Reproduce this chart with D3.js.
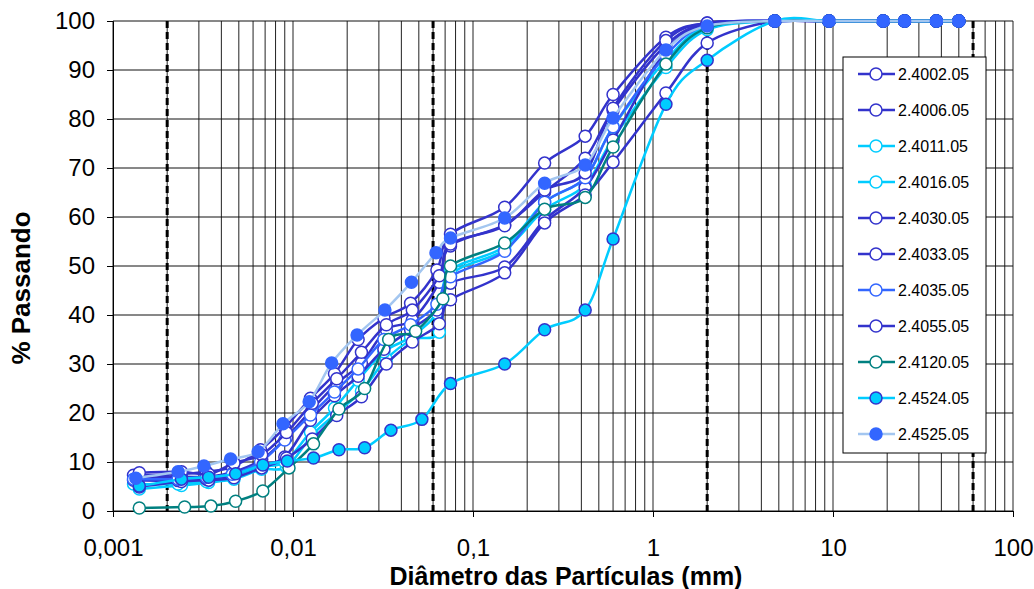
<!DOCTYPE html>
<html>
<head>
<meta charset="utf-8">
<script src="https://cdn.jsdelivr.net/npm/d3@7"></script>
<style>
  body { margin: 0; background: #fff; }
  text { font-family: Arial, "Liberation Sans", sans-serif; }
</style>
</head>
<body>
<div id="graph"></div>
<script>
// sieve diameters (mm), shared by every sample
const sieveD = [0.075, 0.15, 0.25, 0.42, 0.6, 1.18, 2, 4.75, 9.5, 19, 25, 37.5, 50];
// sedimentation diameters (mm)
const hydroD1 = [0.0013, 0.0023, 0.0033, 0.0046, 0.0066, 0.009, 0.0125, 0.017, 0.023, 0.032, 0.045, 0.063];
const hydroD2 = [0.0014, 0.0024, 0.0034, 0.0047, 0.0067, 0.0092, 0.0128, 0.0175, 0.024, 0.033, 0.046, 0.065];
const hydroTeal = [0.0014, 0.0025, 0.0035, 0.0048, 0.0068, 0.0095, 0.013, 0.018, 0.025, 0.034, 0.048, 0.068];
const hydroCyan = [0.0014, 0.0024, 0.0034, 0.0048, 0.0068, 0.0093, 0.013, 0.018, 0.025, 0.035, 0.052];
const hydroBlue = [0.00134, 0.0023, 0.0032, 0.0045, 0.0064, 0.0088, 0.0123, 0.0164, 0.0227, 0.0324, 0.0455, 0.0623];

// % passing: sedimentation part + sieve part
const p4002 = [7.3, 7.5, 8.0, 9.0, 12.5, 17, 23, 28, 35, 39.4, 42.4, 49.2,
  56.5, 62, 71, 76.5, 85, 96.7, 99.6, 100, 100, 100, 100, 100, 100];
const p4006 = [6.9, 7.0, 7.0, 8.0, 10.5, 15, 20.8, 26, 30.2, 37, 39, 46.7,
  54.1, 58.4, 65.1, 72, 81.8, 95.1, 99.5, 100, 100, 100, 100, 100, 100];
const p4011 = [4.5, 5.2, 5.8, 6.5, 8.5, 9, 15.5, 20, 24.5, 31, 35, 36.5,
  48, 53.3, 61.5, 66.5, 76, 90.5, 98.2, 100, 100, 100, 100, 100, 100];
const p4016 = [5.5, 5.5, 6.0, 7.0, 9.0, 10, 16.1, 21, 26.7, 32.5, 35.5, 40.4,
  49, 54, 63, 68, 78.4, 92, 99, 100, 100, 100, 100, 100, 100];
const p4030 = [6.3, 6.2, 6.5, 7.3, 9.4, 11, 18.5, 23.5, 27.5, 33, 37, 41,
  46.5, 49.8, 59.4, 66, 75.7, 94, 99.3, 100, 100, 100, 100, 100, 100];
const p4033 = [4.9, 6.0, 6.3, 6.8, 8.8, 10.8, 14.7, 19.5, 23.3, 30, 34.5, 38.2,
  43.1, 48.6, 58.8, 64.5, 71.2, 85.3, 95.5, 100, 100, 100, 100, 100, 100];
const p4035 = [6.5, 6.5, 6.9, 7.5, 10, 14.5, 19.6, 24.3, 29, 35, 38, 42.2,
  47.8, 53, 63, 68, 78.4, 93, 99.2, 100, 100, 100, 100, 100, 100];
const p4055 = [7.8, 8.0, 7.5, 9.8, 11.5, 16, 22, 27, 32.4, 38, 41, 48,
  54.5, 58.2, 65.5, 69, 82.2, 96, 99.6, 100, 100, 100, 100, 100, 100];
const p4120 = [0.6, 0.8, 1.0, 2.0, 4.1, 8.8, 13.7, 20.8, 25, 35, 36.7, 43.3,
  50, 54.7, 61.6, 64, 74.3, 91.2, 98.6, 100, 100, 100, 100, 100, 100];
const p4524 = [5.1, 6.5, 6.9, 7.6, 9.4, 10.2, 10.8, 12.5, 12.9, 16.5, 18.7,
  26, 30, 37, 41, 55.5, 83, 92, 100, 100, 100, 100, 100, 100];
const p4525 = [6.7, 8.0, 9.2, 10.6, 12.1, 17.8, 22.3, 30.2, 35.9, 41, 46.7, 52.7,
  55.7, 59.8, 66.9, 70.6, 80.2, 94.1, 99, 100, 100, 100, 100, 100, 100];

const seriesNames = ["2.4002.05", "2.4006.05", "2.4011.05", "2.4016.05", "2.4030.05", "2.4033.05",
  "2.4035.05", "2.4055.05", "2.4120.05", "2.4524.05", "2.4525.05"];

const xTicks = [0.001, 0.01, 0.1, 1, 10, 100];
const yTicks = [0, 10, 20, 30, 40, 50, 60, 70, 80, 90, 100];
const limitLines = [0.002, 0.06, 2, 60];

const DARK = "#3333cc", CYAN = "#00ccff", TEAL = "#008080", BLUE = "#3366ff", LIGHT = "#a3c6f0";

const series = [
  { name: seriesNames[0], d: hydroD1.concat(sieveD), p: p4002, line: DARK, fill: "#fff", edge: DARK },
  { name: seriesNames[1], d: hydroD2.concat(sieveD), p: p4006, line: DARK, fill: "#fff", edge: DARK },
  { name: seriesNames[2], d: hydroD2.concat(sieveD), p: p4011, line: CYAN, fill: "#fff", edge: CYAN },
  { name: seriesNames[3], d: hydroD1.concat(sieveD), p: p4016, line: CYAN, fill: "#fff", edge: CYAN },
  { name: seriesNames[4], d: hydroD1.concat(sieveD), p: p4030, line: DARK, fill: "#fff", edge: DARK },
  { name: seriesNames[5], d: hydroD2.concat(sieveD), p: p4033, line: DARK, fill: "#fff", edge: DARK },
  { name: seriesNames[6], d: hydroD1.concat(sieveD), p: p4035, line: BLUE, fill: "#fff", edge: BLUE },
  { name: seriesNames[7], d: hydroD2.concat(sieveD), p: p4055, line: DARK, fill: "#fff", edge: DARK },
  { name: seriesNames[8], d: hydroTeal.concat(sieveD), p: p4120, line: TEAL, fill: "#fff", edge: TEAL },
  { name: seriesNames[9], d: hydroCyan.concat(sieveD), p: p4524, line: CYAN, fill: CYAN, edge: DARK },
  { name: seriesNames[10], d: hydroBlue.concat(sieveD), p: p4525, line: LIGHT, fill: BLUE, edge: BLUE },
];

function GranChart() {
  const width = 1034, height = 589;
  const config = { marginLeft: 113, marginRight: 21, marginTop: 21, marginBottom: 78 };
  const innerW = width - config.marginLeft - config.marginRight;
  const innerH = height - config.marginTop - config.marginBottom;

  const svg = d3.select("#graph").append("svg")
    .attr("width", width).attr("height", height)
    .append("g")
    .attr("transform", `translate(${config.marginLeft},${config.marginTop})`);

  const x = d3.scaleLog().domain([0.001, 100]).range([0, innerW]);
  const y = d3.scaleLinear().domain([0, 100]).range([innerH, 0]);

  // vertical grid on every log step
  const minor = [];
  for (let e = -3; e < 2; e++) for (let k = 1; k <= 9; k++) minor.push(k * Math.pow(10, e));
  minor.push(100);
  svg.append("g").selectAll("line").data(minor).enter().append("line")
    .attr("x1", d => x(d)).attr("x2", d => x(d))
    .attr("y1", 0).attr("y2", innerH)
    .attr("stroke", "#222").attr("stroke-width", 1);

  svg.append("g").selectAll("line").data(yTicks).enter().append("line")
    .attr("x1", 0).attr("x2", innerW)
    .attr("y1", d => y(d)).attr("y2", d => y(d))
    .attr("stroke", "#111").attr("stroke-width", 1);

  svg.append("g").selectAll("line").data(limitLines).enter().append("line")
    .attr("x1", d => x(d)).attr("x2", d => x(d))
    .attr("y1", 0).attr("y2", innerH)
    .attr("stroke", "#000").attr("stroke-width", 3)
    .attr("stroke-dasharray", "7,4");

  // axes
  const yAxis = d3.axisLeft(y).tickValues(yTicks).tickSize(6).tickPadding(12);
  const gy = svg.append("g").call(yAxis);
  gy.selectAll("text").style("font-size", "24px").attr("fill", "#000");
  gy.select(".domain").attr("stroke", "#000");

  const xAxis = d3.axisBottom(x).tickValues(xTicks).tickSize(6).tickPadding(22)
    .tickFormat(d => String(d).replace(".", ","));
  const gx = svg.append("g").attr("transform", `translate(0,${innerH})`).call(xAxis);
  gx.selectAll("text").style("font-size", "24px").attr("fill", "#000");
  gx.select(".domain").attr("stroke", "#000");

  svg.append("text")
    .attr("x", innerW / 2 + 3).attr("y", innerH + 74)
    .attr("text-anchor", "middle")
    .style("font-size", "25px").style("font-weight", "bold")
    .text("Diâmetro das Partículas (mm)");

  svg.append("text")
    .attr("transform", `translate(${-83},${innerH / 2 + 22}) rotate(-90)`)
    .attr("text-anchor", "middle")
    .style("font-size", "26px").style("font-weight", "bold")
    .text("% Passando");

  const line = d3.line()
    .x(d => x(d[0])).y(d => y(d[1]))
    .curve(d3.curveCatmullRom.alpha(0));

  series.forEach(s => {
    const pts = s.d.map((d, i) => [d, s.p[i]]);
    const g = svg.append("g").attr("class", "series");
    g.append("path").datum(pts)
      .attr("d", line).attr("fill", "none")
      .attr("stroke", s.line).attr("stroke-width", 2.5);
    g.selectAll("circle").data(pts).enter().append("circle")
      .attr("cx", d => x(d[0])).attr("cy", d => y(d[1]))
      .attr("r", 6)
      .attr("fill", s.fill).attr("stroke", s.edge).attr("stroke-width", 1.5);
  });

  // legend
  const legend = svg.append("g")
    .attr("transform", `translate(${843 - config.marginLeft},${57 - config.marginTop})`);
  legend.append("rect")
    .attr("width", 143).attr("height", 396)
    .attr("fill", "#fff").attr("stroke", "#000").attr("stroke-width", 1);
  const entries = legend.selectAll(".legend-entry").data(series).enter().append("g")
    .attr("class", "legend-entry")
    .attr("transform", (d, i) => `translate(0,${17 + i * 36})`);
  entries.append("line")
    .attr("x1", 15).attr("x2", 52).attr("y1", 0).attr("y2", 0)
    .attr("stroke", d => d.line).attr("stroke-width", 2.5);
  entries.append("circle")
    .attr("cx", 33).attr("cy", 0).attr("r", 6)
    .attr("fill", d => d.fill).attr("stroke", d => d.edge).attr("stroke-width", 1.5);
  entries.append("text")
    .attr("x", 55).attr("y", 6)
    .style("font-size", "16px")
    .text(d => d.name);
}

GranChart();
</script>
</body>
</html>
